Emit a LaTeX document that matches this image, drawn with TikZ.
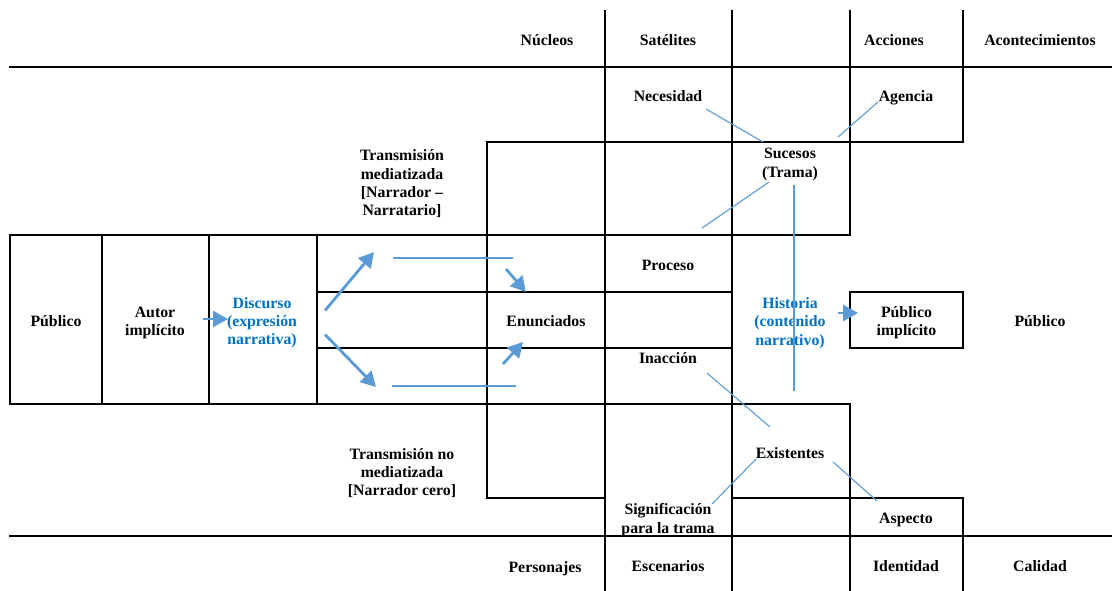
\documentclass[tikz,border=0pt]{standalone}
\usepackage{fontspec}
\setmainfont{Liberation Serif}
\usepackage{xcolor}
\usetikzlibrary{arrows.meta}
\definecolor{accent}{RGB}{91,155,213}
\definecolor{bluetext}{RGB}{0,112,192}
\tikzstyle{tabline} = [line width=1.9pt, 
line cap=rect]
\tikzstyle{txt} = [inner sep=0pt, 
align=center, 
font=\fontsize{15.8}{18.3}\selectfont\bfseries]
\tikzstyle{bluetxt} = [txt, 
text=bluetext]
\tikzstyle{link} = [draw=accent, line width=1.1pt]
\tikzstyle{flow} = [draw=accent, line width=2.2pt]
\tikzstyle{arrow} = [draw=accent, line width=2.8pt, -{Triangle[length=15pt 0 0,width=16pt 0 0]}]

\begin{document}
\begin{tikzpicture}[x=1pt, y=-1pt]

  \useasboundingbox (0,0) rectangle (1112,590);

  \draw [tabline] (10,67) -- (1112,67);
  \draw [tabline] (10,536) -- (1112,536);
  \draw [tabline] (605,11) -- (605,590);
  \draw [tabline] (732,11) -- (732,590);
  \draw [tabline] (850,11) -- (850,235);
  \draw [tabline] (963,11) -- (963,142);
  \draw [tabline] (487,142) -- (963,142);
  \draw [tabline] (487,142) -- (487,498);
  \draw [tabline] (10,235) -- (850,235);
  \draw [tabline] (10,404) -- (850,404);
  \draw [tabline] (10,235) -- (10,404);
  \draw [tabline] (102,235) -- (102,404);
  \draw [tabline] (209,235) -- (209,404);
  \draw [tabline] (317,235) -- (317,404);
  \draw [tabline] (317,292) -- (732,292);
  \draw [tabline] (317,348) -- (732,348);
  \draw [tabline] (850,404) -- (850,590);
  \draw [tabline] (963,498) -- (963,590);
  \draw [tabline] (487,498) -- (605,498);
  \draw [tabline] (732,498) -- (963,498);

  \node (nuc) [txt] at (547,40) {Núcleos};
  \node (sat) [txt] at (668,40) {Satélites};
  \node (acc) [txt] at (894,40) {Acciones};
  \node (aco) [txt] at (1040,40) {Acontecimientos};

  \node (nec) [txt] at (668,96) {Necesidad};
  \node (age) [txt] at (906,98) {Agencia};
  \node (suc) [txt] at (790,164.5) {Sucesos\\(Trama)};
  \node (tmed) [txt] at (402,184) {Transmisión\\mediatizada\\{[Narrador –}\\Narratario]};

  \node (pub) [txt] at (56,321) {Público};
  \node (aut) [txt] at (155,323) {Autor\\implícito};
  \node (dis) [bluetxt] at (262,322.5) {Discurso\\(expresión\\narrativa)};
  \node (enu) [txt] at (546,321) {Enunciados};
  \node (pro) [txt] at (668,265) {Proceso};
  \node (ina) [txt] at (668,358) {Inacción};
  \node (his) [bluetxt] at (790,323) {Historia\\(contenido\\narrativo)};
  \node (pim) [draw, line width=1.9pt, minimum width=113pt, minimum height=56pt] at (906.5,320) {};
  \node (pimtxt) [txt] at (906.5,323) {Público\\implícito};
  \node (pud) [txt] at (1040,321) {Público};

  \node (tno) [txt] at (402,473) {Transmisión no\\mediatizada\\{[Narrador cero]}};
  \node (exi) [txt] at (790,453) {Existentes};
  \node (sig) [txt] at (668,520) {Significación\\para la trama};
  \node (asp) [txt] at (906,520) {Aspecto};

  \node (per) [txt] at (545,568.5) {Personajes};
  \node (esc) [txt] at (668,566) {Escenarios};
  \node (ide) [txt] at (906,566) {Identidad};
  \node (cal) [txt] at (1040,566) {Calidad};

  \coordinate (uptip) at (374,252);
  \coordinate (lotip) at (376,387);
  \coordinate (upl) at (393,258);
  \coordinate (upr) at (513,258);
  \coordinate (lol) at (392,386);
  \coordinate (lor) at (516,386);
  \coordinate (updrop) at (506,269);
  \coordinate (lorise) at (503,364);

  \draw [arrow] ([shift={(48,-4)}]aut.center) -- ([shift={(-34,-3.5)}]dis.center);
  \draw [arrow] ([shift={(63,-12)}]dis.center) -- (uptip);
  \draw [arrow] ([shift={(63,12)}]dis.center) -- (lotip);
  \draw [flow] (upl) -- (upr);
  \draw [flow] (lol) -- (lor);
  \draw [arrow] (updrop) -- ([shift={(-20,-29)}]enu.center);
  \draw [arrow] (lorise) -- ([shift={(-23,21)}]enu.center);
  \draw [arrow] ([shift={(48,-10)}]his.center) -- ([shift={(9,-7)}]pim.west);

  \draw [link] ([shift={(38,13)}]nec.center) -- ([shift={(-27,-22.5)}]suc.center);
  \draw [link] ([shift={(-28,4)}]age.center) -- ([shift={(48,-27.5)}]suc.center);
  \draw [link] ([shift={(-21,17.5)}]suc.center) -- ([shift={(34,-37)}]pro.center);
  \draw [link] ([shift={(4,20.5)}]suc.center) -- ([shift={(4,-62)}]exi.center);
  \draw [link] ([shift={(39,15)}]ina.center) -- ([shift={(-20,-26)}]exi.center);
  \draw [link] ([shift={(-34,6)}]exi.center) -- ([shift={(44,-16)}]sig.center);
  \draw [link] ([shift={(43,9)}]exi.center) -- ([shift={(-29,-19)}]asp.center);

\end{tikzpicture}
\end{document}
